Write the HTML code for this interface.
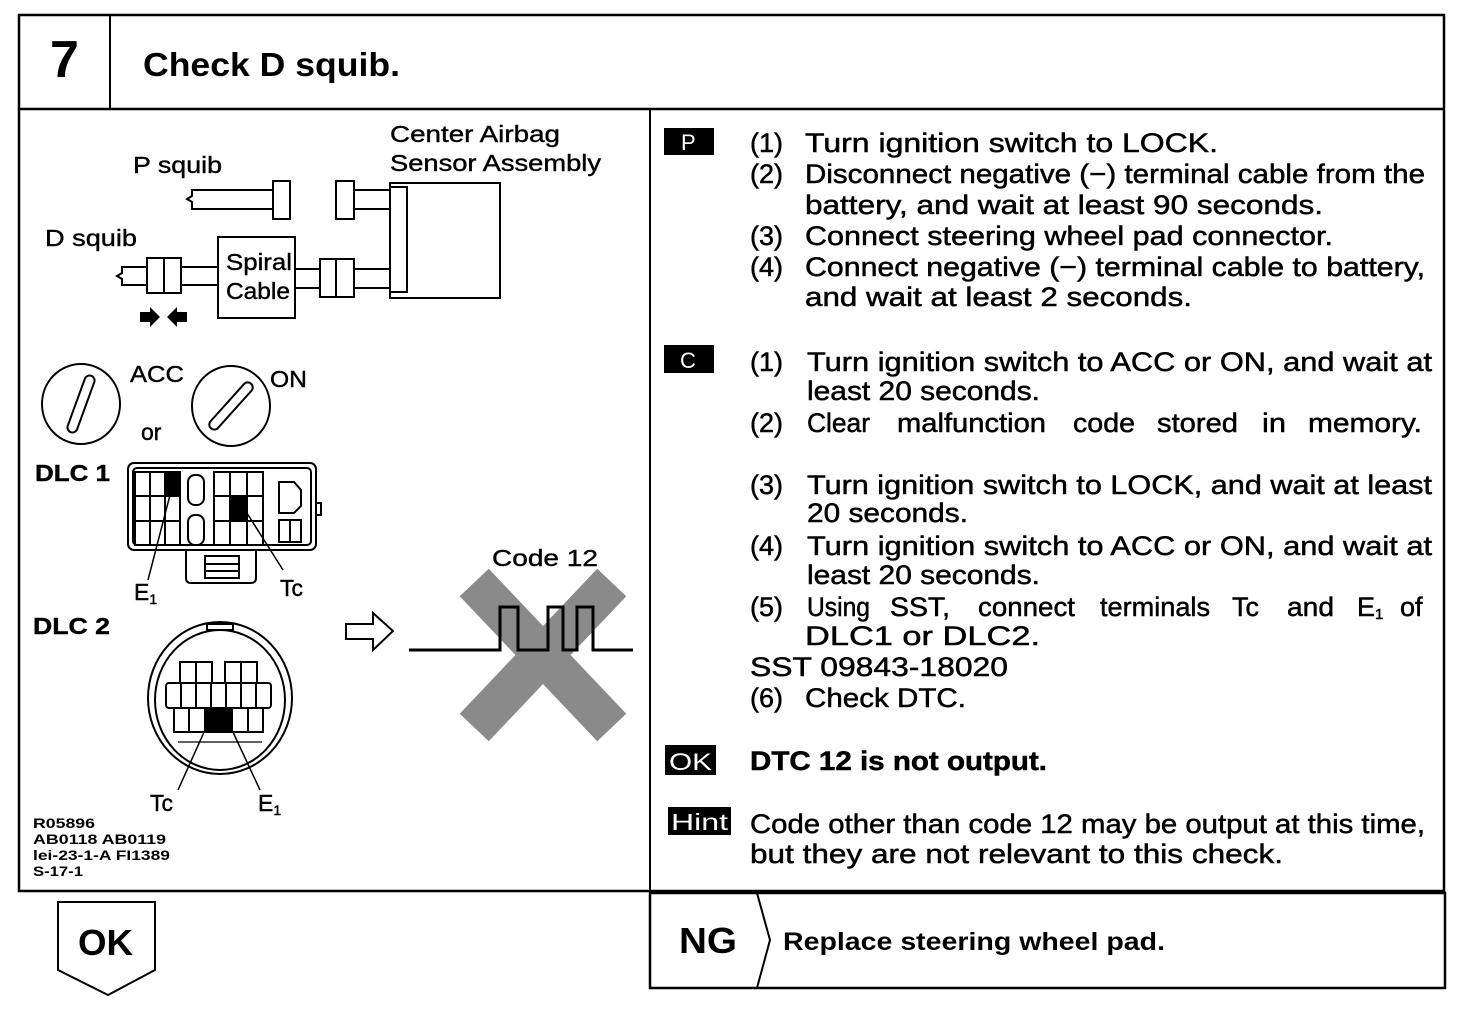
<!DOCTYPE html>
<html><head><meta charset="utf-8"><style>
html,body{margin:0;padding:0;background:#fff;}
svg{display:block;}
text{font-family:"Liberation Sans",sans-serif;fill:#000;}
.t{font-size:27px;stroke:#000;stroke-width:0.5px;}
.l{font-size:23px;stroke:#000;stroke-width:0.4px;}
.b{font-weight:bold;}
</style></head><body>
<svg width="1472" height="1010" viewBox="0 0 1472 1010" xmlns="http://www.w3.org/2000/svg">
<g fill="none" stroke="#000" stroke-width="2">
<rect x="19" y="15" width="1425" height="876" stroke-width="2.5"/>
<line x1="19" y1="109" x2="1444" y2="109" stroke-width="2.5"/>
<line x1="110" y1="15" x2="110" y2="109"/>
<line x1="650" y1="109" x2="650" y2="891"/>
<rect x="650" y="893" width="795" height="95" stroke-width="2.5"/>
<polyline points="757,893 770,940 757,988"/>
<polygon points="58,902 155,902 155,970 108,995 58,970" stroke-width="2"/>
</g>
<text x="50" y="77" class="b" style="font-size:52px">7</text>
<text x="143" y="76" class="b" style="font-size:33px" textLength="257" lengthAdjust="spacingAndGlyphs">Check D squib.</text>
<text x="78" y="955" class="b" style="font-size:36px" textLength="55" lengthAdjust="spacingAndGlyphs">OK</text>
<text x="679" y="953" class="b" style="font-size:36px" textLength="58" lengthAdjust="spacingAndGlyphs">NG</text>
<text x="783" y="950" class="b" style="font-size:25px" textLength="382" lengthAdjust="spacingAndGlyphs">Replace steering wheel pad.</text>

<g fill="none" stroke="#000" stroke-width="2">
<rect x="273" y="181" width="17" height="38" fill="#fff"/>
<polyline points="273,190 192,190 192,196 187,199 192,202 192,209 273,209"/>
<rect x="336" y="181" width="18" height="38"/>
<line x1="354" y1="190" x2="390" y2="190"/><line x1="354" y1="209" x2="390" y2="209"/>
<rect x="390" y="183" width="110" height="115"/>
<rect x="390" y="187" width="17" height="105"/>
<polyline points="147,267 122,267 122,273 117,276 122,279 122,285 147,285"/>
<rect x="147" y="258" width="34" height="35"/><line x1="164" y1="258" x2="164" y2="293"/>
<line x1="181" y1="267" x2="218" y2="267"/><line x1="181" y1="285" x2="218" y2="285"/>
<rect x="218" y="237" width="77" height="81"/>
<line x1="295" y1="269" x2="320" y2="269"/><line x1="295" y1="288" x2="320" y2="288"/>
<rect x="320" y="259" width="34" height="38"/><line x1="336" y1="259" x2="336" y2="297"/>
<line x1="354" y1="269" x2="390" y2="269"/><line x1="354" y1="288" x2="390" y2="288"/>
<ellipse cx="81" cy="404" rx="39" ry="40"/>
<rect x="-5" y="-30" width="10" height="60" rx="5" transform="translate(81,404) rotate(20)"/>
<ellipse cx="231" cy="406" rx="39" ry="40"/>
<rect x="-5" y="-30" width="10" height="60" rx="5" transform="translate(231,406) rotate(42)"/>
<rect x="128" y="463" width="188" height="87" rx="6"/>
<rect x="133" y="468" width="178" height="77" rx="4"/>
<rect x="316" y="503" width="5" height="12"/>
<path d="M186,550 V578 Q186,583 191,583 H251 Q256,583 256,578 V550"/>
<rect x="205" y="556" width="34" height="22"/>
<line x1="205" y1="564" x2="239" y2="564"/><line x1="205" y1="571" x2="239" y2="571"/>
<rect x="135" y="472" width="45" height="73"/>
<line x1="150" y1="472" x2="150" y2="545"/><line x1="165" y1="472" x2="165" y2="545"/>
<line x1="135" y1="496" x2="180" y2="496"/><line x1="135" y1="521" x2="180" y2="521"/>
<rect x="188" y="475" width="16" height="30" rx="7"/>
<rect x="188" y="515" width="16" height="30" rx="7"/>
<rect x="214" y="472" width="49" height="73"/>
<line x1="230" y1="472" x2="230" y2="545"/><line x1="247" y1="472" x2="247" y2="545"/>
<line x1="214" y1="496" x2="263" y2="496"/><line x1="214" y1="521" x2="263" y2="521"/>
<path d="M279,482 H294 L301,490 V506 L294,513 H279 Z"/>
<rect x="279" y="520" width="22" height="22"/><line x1="290" y1="520" x2="290" y2="542"/>
<line x1="170" y1="495" x2="148" y2="580" stroke-width="1.5"/>
<line x1="245" y1="510" x2="283" y2="570" stroke-width="1.5"/>
<ellipse cx="220" cy="698" rx="72" ry="76"/>
<ellipse cx="220" cy="700" rx="65" ry="70"/>
<rect x="207" y="624" width="26" height="6"/>
<rect x="180" y="662" width="32" height="21"/><line x1="196" y1="662" x2="196" y2="683"/>
<rect x="225" y="662" width="32" height="21"/><line x1="241" y1="662" x2="241" y2="683"/>
<rect x="166" y="683" width="105" height="25" rx="3"/>
<line x1="181" y1="683" x2="181" y2="708"/><line x1="196" y1="683" x2="196" y2="708"/><line x1="211" y1="683" x2="211" y2="708"/><line x1="226" y1="683" x2="226" y2="708"/><line x1="241" y1="683" x2="241" y2="708"/><line x1="256" y1="683" x2="256" y2="708"/>
<rect x="174" y="708" width="89" height="24"/>
<line x1="189" y1="708" x2="189" y2="732"/><line x1="248" y1="708" x2="248" y2="732"/>
<line x1="178" y1="742" x2="262" y2="742" stroke-width="1.2"/>
<line x1="205" y1="730" x2="178" y2="790" stroke-width="1.5"/>
<line x1="232" y1="730" x2="260" y2="790" stroke-width="1.5"/>
<polygon points="346,624 373,624 373,613 393,631 373,650 373,639 346,639"/>
<g stroke="#8a8a8a" stroke-width="40" stroke-linecap="square">
<line x1="488" y1="597" x2="598" y2="713"/><line x1="598" y1="597" x2="488" y2="713"/>
</g>
<polyline points="409,650 500,650 500,607 518,607 518,650 548,650 548,607 563,607 563,650 577,650 577,607 593,607 593,650 633,650" stroke-width="3"/>
</g>
<rect x="165" y="472" width="15" height="24"/>
<rect x="230" y="496" width="17" height="25"/>
<rect x="204" y="708" width="29" height="24"/>
<path d="M140,312 h10 v-5 l10,10 l-10,10 v-5 h-10 z"/>
<path d="M187,312 h-10 v-5 l-10,10 l10,10 v-5 h10 z"/>

<text x="390" y="142" class="l" textLength="170" lengthAdjust="spacingAndGlyphs">Center Airbag</text>
<text x="390" y="171" class="l" textLength="211" lengthAdjust="spacingAndGlyphs">Sensor Assembly</text>
<text x="133" y="173" class="l" textLength="89" lengthAdjust="spacingAndGlyphs">P squib</text>
<text x="45" y="246" class="l" textLength="92" lengthAdjust="spacingAndGlyphs">D squib</text>
<text x="226" y="270" class="l" textLength="66" lengthAdjust="spacingAndGlyphs">Spiral</text>
<text x="226" y="299" class="l" textLength="64" lengthAdjust="spacingAndGlyphs">Cable</text>
<text x="130" y="382" class="l" textLength="54" lengthAdjust="spacingAndGlyphs">ACC</text>
<text x="270" y="387" class="l" textLength="37" lengthAdjust="spacingAndGlyphs">ON</text>
<text x="141" y="440" class="l">or</text>
<text x="35" y="481" class="l b" textLength="75" lengthAdjust="spacingAndGlyphs">DLC 1</text>
<text x="33" y="634" class="l b" textLength="77" lengthAdjust="spacingAndGlyphs">DLC 2</text>
<text x="134" y="600" class="l">E<tspan font-size="14" dy="4">1</tspan></text>
<text x="280" y="596" class="l">Tc</text>
<text x="492" y="566" class="l" textLength="106" lengthAdjust="spacingAndGlyphs">Code 12</text>
<text x="150" y="811" class="l">Tc</text>
<text x="258" y="811" class="l">E<tspan font-size="14" dy="4">1</tspan></text>
<g class="b" style="font-size:14px">
<text x="33" y="828" textLength="62" lengthAdjust="spacingAndGlyphs">R05896</text>
<text x="33" y="844" textLength="133" lengthAdjust="spacingAndGlyphs">AB0118 AB0119</text>
<text x="33" y="860" textLength="137" lengthAdjust="spacingAndGlyphs">lei-23-1-A FI1389</text>
<text x="33" y="876" textLength="50" lengthAdjust="spacingAndGlyphs">S-17-1</text>
</g>

<rect x="664" y="128" width="50" height="27"/>
<text x="681" y="150" style="font-size:22px;fill:#fff">P</text>
<rect x="664" y="345" width="50" height="28"/>
<text x="680" y="368" style="font-size:22px;fill:#fff">C</text>
<rect x="665" y="745" width="51" height="30"/>
<text x="669" y="770" style="font-size:24px;fill:#fff" textLength="43" lengthAdjust="spacingAndGlyphs">OK</text>
<rect x="668" y="807" width="63" height="28"/>
<text x="671" y="830" style="font-size:23px;fill:#fff" textLength="57" lengthAdjust="spacingAndGlyphs">Hint</text>

<g class="t">
<text x="750" y="152">(1)</text><text x="805" y="152" textLength="413" lengthAdjust="spacingAndGlyphs">Turn ignition switch to LOCK.</text>
<text x="750" y="183">(2)</text><text x="805" y="183" textLength="620" lengthAdjust="spacingAndGlyphs">Disconnect negative (−) terminal cable from the</text>
<text x="805" y="214" textLength="518" lengthAdjust="spacingAndGlyphs">battery, and wait at least 90 seconds.</text>
<text x="750" y="245">(3)</text><text x="805" y="245" textLength="528" lengthAdjust="spacingAndGlyphs">Connect steering wheel pad connector.</text>
<text x="750" y="276">(4)</text><text x="805" y="276" textLength="620" lengthAdjust="spacingAndGlyphs">Connect negative (−) terminal cable to battery,</text>
<text x="805" y="306" textLength="387" lengthAdjust="spacingAndGlyphs">and wait at least 2 seconds.</text>

<text x="750" y="371">(1)</text><text x="807" y="371" textLength="625" lengthAdjust="spacingAndGlyphs">Turn ignition switch to ACC or ON, and wait at</text>
<text x="807" y="400" textLength="233" lengthAdjust="spacingAndGlyphs">least 20 seconds.</text>
<text x="750" y="432">(2)</text>
<text x="807" y="432" textLength="63" lengthAdjust="spacingAndGlyphs">Clear</text>
<text x="897" y="432" textLength="149" lengthAdjust="spacingAndGlyphs">malfunction</text>
<text x="1073" y="432" textLength="62" lengthAdjust="spacingAndGlyphs">code</text>
<text x="1157" y="432" textLength="81" lengthAdjust="spacingAndGlyphs">stored</text>
<text x="1262" y="432" textLength="24" lengthAdjust="spacingAndGlyphs">in</text>
<text x="1308" y="432" textLength="114" lengthAdjust="spacingAndGlyphs">memory.</text>
<text x="750" y="494">(3)</text><text x="807" y="494" textLength="625" lengthAdjust="spacingAndGlyphs">Turn ignition switch to LOCK, and wait at least</text>
<text x="807" y="522" textLength="161" lengthAdjust="spacingAndGlyphs">20 seconds.</text>
<text x="750" y="555">(4)</text><text x="807" y="555" textLength="625" lengthAdjust="spacingAndGlyphs">Turn ignition switch to ACC or ON, and wait at</text>
<text x="807" y="584" textLength="233" lengthAdjust="spacingAndGlyphs">least 20 seconds.</text>
<text x="750" y="616">(5)</text>
<text x="807" y="616" textLength="63" lengthAdjust="spacingAndGlyphs">Using</text>
<text x="890" y="616" textLength="60" lengthAdjust="spacingAndGlyphs">SST,</text>
<text x="978" y="616" textLength="97" lengthAdjust="spacingAndGlyphs">connect</text>
<text x="1100" y="616" textLength="110" lengthAdjust="spacingAndGlyphs">terminals</text>
<text x="1232" y="616">Tc</text>
<text x="1287" y="616" textLength="47" lengthAdjust="spacingAndGlyphs">and</text>
<text x="1357" y="616">E<tspan font-size="15" dy="3">1</tspan></text>
<text x="1400" y="616">of</text>
<text x="805" y="645" textLength="235" lengthAdjust="spacingAndGlyphs">DLC1 or DLC2.</text>
<text x="750" y="676" textLength="258" lengthAdjust="spacingAndGlyphs">SST 09843-18020</text>
<text x="750" y="707">(6)</text><text x="805" y="707" textLength="161" lengthAdjust="spacingAndGlyphs">Check DTC.</text>
<text x="750" y="770" class="b" textLength="297" lengthAdjust="spacingAndGlyphs">DTC 12 is not output.</text>
<text x="750" y="833" textLength="675" lengthAdjust="spacingAndGlyphs">Code other than code 12 may be output at this time,</text>
<text x="750" y="863" textLength="533" lengthAdjust="spacingAndGlyphs">but they are not relevant to this check.</text>
</g>
</svg>
</body></html>
